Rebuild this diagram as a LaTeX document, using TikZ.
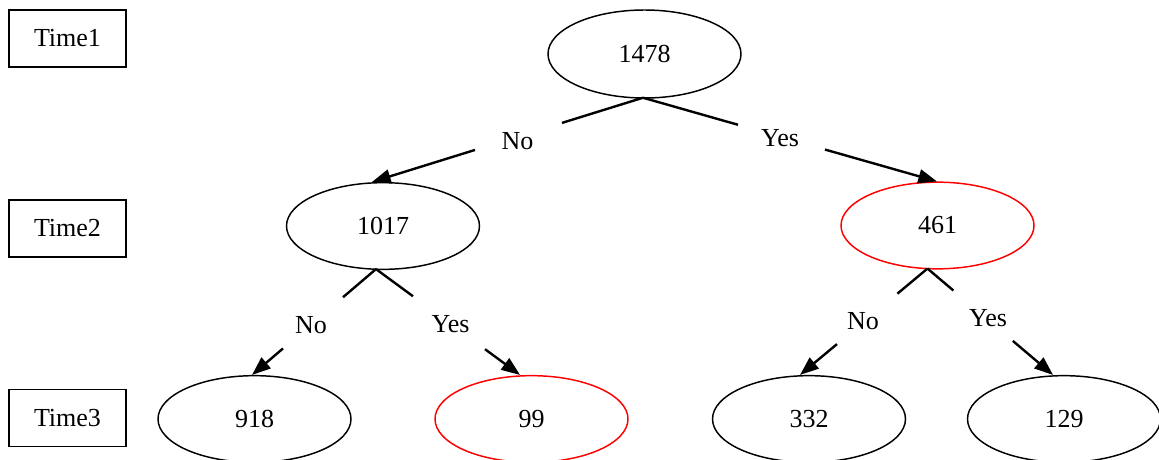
\documentclass[tikz,border=0pt]{standalone}
\usepackage{fontspec}
\setmainfont{Liberation Serif}
\usetikzlibrary{shapes.geometric,arrows.meta,calc}

% Draw an edge from #1 to #3 with a gap for its label;
% #4 and #5 are the fractions of the way where the gap starts and ends.
\newcommand\gapedge[5]{%
  \draw[edgeline] (#1) -- ($(#1)!#4!(#3)$);
  \draw[edgeline,-{Triangle[length=14pt,width=10.5pt]}] ($(#1)!#5!(#3)$) -- (#3);
}

\begin{document}
\begin{tikzpicture}[
  x=0.75pt, y=-0.75pt,
  every node/.style={font=\fontsize{19.5}{23}\selectfont},
  timebox/.style={draw, line width=1.3pt, rectangle, minimum width=87.75pt,
    minimum height=42.75pt, inner sep=0pt},
  count/.style={draw, line width=1.1pt, ellipse, minimum width=144.75pt,
    minimum height=65pt, inner sep=0pt},
  hot/.style={count, draw=red},
  edgeline/.style={line width=1.8pt},
  elabel/.style={inner sep=0pt}
]
\useasboundingbox (0,0) rectangle (1159,460);

% level markers
\node[timebox] (t1) at (67.5,38.5) {Time1};
\node[timebox] (t2) at (67.5,228.5) {Time2};
\node[timebox] (t3) at (67.5,418) {Time3};

% tree nodes
\node[count, minimum height=66pt] (n1478) at (644.5,54) {1478};
\node[count] (n1017) at (383,226) {1017};
\node[hot]   (n461)  at (937.5,225.5) {461};
\node[count] (n918)  at (254.5,419) {918};
\node[hot]   (n99)   at (531.5,419) {99};
\node[count] (n332)  at (809,419) {332};
\node[count] (n129)  at (1064,419) {129};

% edge labels
\node[elabel] (l1) at (517.5,141) {No};
\node[elabel] (l2) at (780,138) {Yes};
\node[elabel] (l3) at (311,325.5) {No};
\node[elabel] (l4) at (450.5,324) {Yes};
\node[elabel] (l5) at (863,321) {No};
\node[elabel] (l6) at (988,318) {Yes};

% edge end points
\coordinate (s1478) at ($(n1478.south)+(-1.5,-1)$);
\coordinate (s1017) at ($(n1017.south)+(-7,-1)$);
\coordinate (s461)  at ($(n461.south)+(-10,-1)$);
\coordinate (e1017) at ($(n1017.north)+(-11,0)$);
\coordinate (e461)  at ($(n461.north)+(-0.5,0)$);
\coordinate (e918)  at ($(n918.north)+(-2.5,0)$);
\coordinate (e99)   at ($(n99.north)+(-11.5,0)$);
\coordinate (e332)  at ($(n332.north)+(-9,0)$);
\coordinate (e129)  at ($(n129.north)+(-11,0)$);

% edges
\gapedge{s1478}{l1}{e1017}{0.299}{0.62}
\gapedge{s1478}{l2}{e461}{0.323}{0.619}
\gapedge{s1017}{l3}{e918}{0.266}{0.75}
\gapedge{s1017}{l4}{e99}{0.257}{0.757}
\gapedge{s461}{l5}{e332}{0.236}{0.71}
\gapedge{s461}{l6}{e129}{0.206}{0.68}
\end{tikzpicture}
\end{document}
